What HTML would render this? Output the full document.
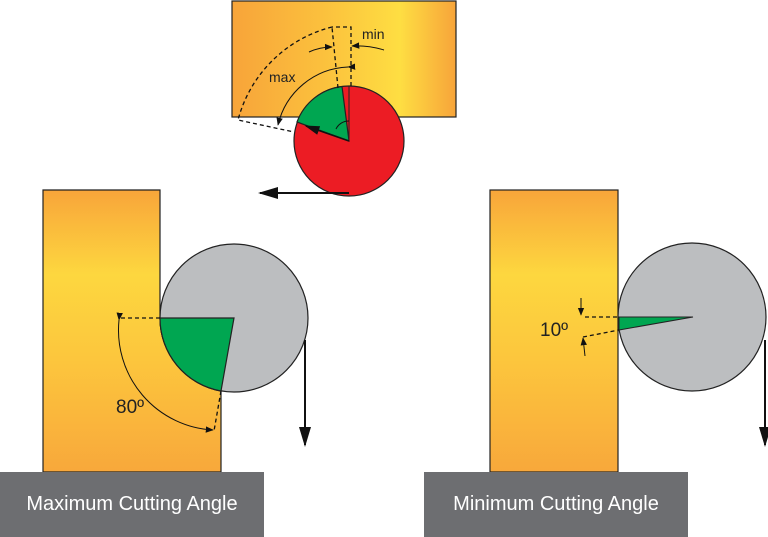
<!DOCTYPE html>
<html><head><style>html,body{margin:0;padding:0;background:#fff}svg{display:block}</style></head><body>
<svg width="768" height="537" viewBox="0 0 768 537" xmlns="http://www.w3.org/2000/svg" font-family="Liberation Sans, sans-serif">
<defs>
<linearGradient id="gv" x1="0" y1="0" x2="0" y2="1">
<stop offset="0" stop-color="#f8a53a"/><stop offset="0.3" stop-color="#fdd73f"/><stop offset="0.6" stop-color="#fcc63d"/><stop offset="1" stop-color="#f8a83b"/></linearGradient>
<linearGradient id="gh" x1="0" y1="0" x2="1" y2="0">
<stop offset="0" stop-color="#f7a43a"/><stop offset="0.4" stop-color="#fbc03d"/><stop offset="0.75" stop-color="#fede42"/><stop offset="1" stop-color="#f7a43a"/></linearGradient>
<marker id="ah" viewBox="0 0 10 10" refX="9" refY="5" markerWidth="8" markerHeight="8" orient="auto"><path d="M0,1 L10,5 L0,9z" fill="#111"/></marker>
<marker id="as" viewBox="0 0 10 10" refX="9" refY="5" markerWidth="10" markerHeight="10" orient="auto"><path d="M0,2 L10,5 L0,8z" fill="#111"/></marker>
</defs>

<!-- Top diagram -->
<rect x="232" y="1" width="224" height="116" fill="url(#gh)" stroke="#222" stroke-width="1.2"/>
<circle cx="349" cy="141" r="55" fill="#ec1c24" stroke="#222" stroke-width="1.2"/>
<path d="M349,141 L342,86.5 A55,55 0 0 0 297,122 Z" fill="#00a651" stroke="#222" stroke-width="1.2"/>
<line x1="349" y1="141" x2="349" y2="86" stroke="#222" stroke-width="1"/>
<path d="M349,141 L306,126" stroke="#111" stroke-width="1.5" marker-end="url(#as)"/>
<path d="M336,129 A14,14 0 0 1 349,121" fill="none" stroke="#111" stroke-width="1"/>
<g fill="none" stroke="#111" stroke-width="1.3" stroke-dasharray="4,3">
<path d="M351,86 L351,27 L332,27"/>
<path d="M338,88 L332,27"/>
<path d="M332,27 A130,130 0 0 0 238,120 L294,132"/>
</g>
<path d="M348,67 A75,75 0 0 0 278,125" fill="none" stroke="#111" stroke-width="1" marker-start="url(#ah)" marker-end="url(#ah)"/>
<path d="M309,52 Q320,47 332,47" fill="none" stroke="#111" stroke-width="1" marker-end="url(#ah)"/>
<path d="M384,50 Q368,45 352,46" fill="none" stroke="#111" stroke-width="1" marker-end="url(#ah)"/>
<text x="362" y="39" font-size="14" fill="#222">min</text>
<text x="269" y="82" font-size="14" fill="#222">max</text>
<path d="M349,193 L260,193" stroke="#111" stroke-width="2" marker-end="url(#as)"/>

<!-- Left diagram -->
<path d="M43,190 L160,190 L160,318 A74,74 0 0 0 221,391 L221,472 L43,472 Z" fill="url(#gv)" stroke="#222" stroke-width="1.2"/>
<circle cx="234" cy="318" r="74" fill="#bcbec0" stroke="#222" stroke-width="1.2"/>
<path d="M234,318 L160,318 A74,74 0 0 0 221,391 Z" fill="#00a651" stroke="#222" stroke-width="1.2"/>
<g fill="none" stroke="#111" stroke-width="1.3" stroke-dasharray="4,3">
<path d="M160,318 L119,318"/><path d="M221,391 L214,431"/>
</g>
<path d="M119,320 A100,100 0 0 0 213,430" fill="none" stroke="#111" stroke-width="1" marker-start="url(#ah)" marker-end="url(#ah)"/>
<text x="116" y="413" font-size="19" fill="#222">80º</text>
<path d="M305,340 L305,445" stroke="#111" stroke-width="2" marker-end="url(#as)"/>
<rect x="0" y="472" width="264" height="65" fill="#6d6e71"/>
<text x="132" y="510" font-size="20" fill="#fff" text-anchor="middle">Maximum Cutting Angle</text>

<!-- Right diagram -->
<rect x="490" y="190" width="128" height="282" fill="url(#gv)" stroke="#222" stroke-width="1.2"/>
<circle cx="692" cy="317" r="74" fill="#bcbec0" stroke="#222" stroke-width="1.2"/>
<path d="M693,317 L619,317 L619,330 Z" fill="#00a651" stroke="#222" stroke-width="1"/>
<g fill="none" stroke="#111" stroke-width="1.3" stroke-dasharray="4,3">
<path d="M585,317 L619,317"/><path d="M583,337 L619,330"/>
</g>
<path d="M581,298 L581,315" stroke="#111" stroke-width="1" marker-end="url(#ah)"/>
<path d="M585,356 L583,338" stroke="#111" stroke-width="1" marker-end="url(#ah)"/>
<text x="540" y="336" font-size="19" fill="#222">10º</text>
<path d="M765,340 L765,445" stroke="#111" stroke-width="2" marker-end="url(#as)"/>
<rect x="424" y="472" width="264" height="65" fill="#6d6e71"/>
<text x="556" y="510" font-size="20" fill="#fff" text-anchor="middle">Minimum Cutting Angle</text>
</svg>
</body></html>
